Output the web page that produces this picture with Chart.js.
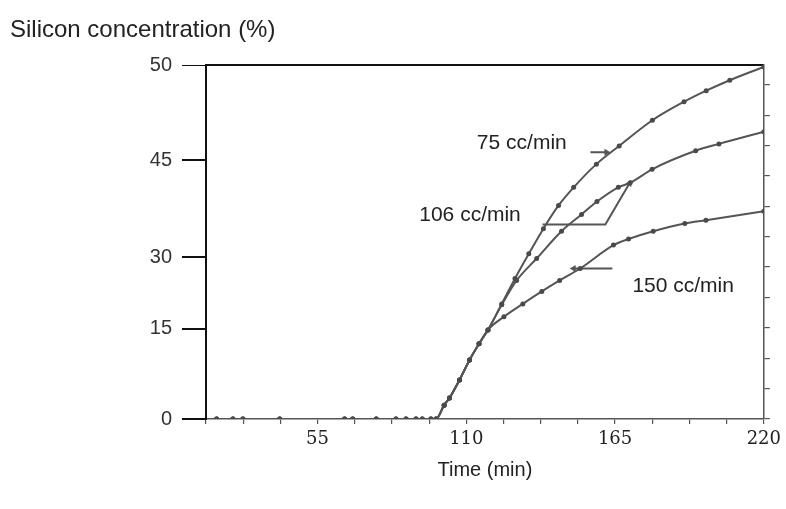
<!DOCTYPE html>
<html>
<head>
<meta charset="utf-8">
<script src="https://cdn.jsdelivr.net/npm/chart.js@4.4.1/dist/chart.umd.min.js"></script>
<style>
  body { margin: 0; background: #fff; }
  canvas { display: block; }
</style>
</head>
<body>
<canvas id="chart" width="786" height="509"></canvas>
<script>
// shared flat start + rise (all three flows overlap here)
const baseTime = [17.7, 23.7, 27.4, 41.0, 65.0, 68.0, 76.7, 84.0, 87.7, 91.4, 93.7, 96.9, 98.8, 101.8, 103.8, 107.5, 111.2, 114.7, 118.0];
const baseConc = [0, 0, 0, 0, 0, 0, 0, 0, 0, 0, 0, 0, 0, 2.3, 3.5, 6.5, 9.8, 12.5, 14.8];

const time75 = [123.1, 128.0, 133.1, 138.5, 144.1, 149.7, 158.1, 166.5, 178.8, 190.5, 198.7, 207.4, 220];
const conc75 = [20.2, 25.5, 30.5, 34.4, 38.0, 40.8, 44.4, 45.75, 47.1, 48.07, 48.65, 49.2, 49.9];

const time106 = [123.1, 128.6, 136.0, 145.2, 152.6, 158.3, 166.2, 170.6, 178.7, 194.8, 203.4, 220];
const conc106 = [20.0, 25.1, 29.7, 34.0, 36.6, 38.6, 40.8, 41.5, 43.6, 45.5, 45.86, 46.5];

const time150 = [123.9, 130.9, 137.9, 144.5, 152.1, 164.4, 170.0, 179.1, 190.8, 198.6, 220];
const conc150 = [17.5, 20.2, 22.8, 25.1, 27.6, 31.85, 32.8, 34.0, 35.2, 35.7, 37.1];

// leader lines from the labels to the curves
const lead75Time = [155.9, 161.8];
const lead75Conc = [45.42, 45.42];
const lead106Time = [138.2, 161.4, 170.3];
const lead106Conc = [35.05, 35.05, 41.4];
const lead150Time = [149.7, 164.0];
const lead150Conc = [27.6, 27.6];

const curveLabels = ['75 cc/min', '106 cc/min', '150 cc/min'];
const labelTime = [113.9, 92.6, 171.4];
const labelConc = [45.9, 36.45, 24.0];

const yTicks = [0, 15, 30, 45, 50];
const xLabelTicks = [55, 110, 165, 220];

// the printed y axis is not evenly spaced: where each tick sits (0..1 up the axis)
const yTickFrac = [0, 0.255, 0.4575, 0.7309, 1];

function piecewise(v, from, to) {
  for (let i = 1; i < from.length; i++) {
    if (v <= from[i] || i === from.length - 1) {
      const t = (v - from[i - 1]) / (from[i] - from[i - 1]);
      return to[i - 1] + t * (to[i] - to[i - 1]);
    }
  }
}

class BrokenScale extends Chart.LinearScale {
  getPixelForValue(value) {
    if (value === null || isNaN(value)) return NaN;
    return this.getPixelForDecimal(piecewise(value, yTicks, yTickFrac));
  }
  getValueForPixel(pixel) {
    return piecewise(this.getDecimalForPixel(pixel), yTickFrac, yTicks);
  }
}
BrokenScale.id = 'broken';
BrokenScale.defaults = Chart.LinearScale.defaults;
Chart.register(BrokenScale);

const pts = (xs, ys) => xs.map((x, i) => ({ x: x, y: ys[i] }));

const lineColor = '#555';

function curve(xs, ys) {
  return {
    data: pts(baseTime.concat(xs), baseConc.concat(ys)),
    borderColor: lineColor,
    borderWidth: 2,
    pointRadius: 2.5,
    pointBackgroundColor: '#4a4a4a',
    pointBorderWidth: 0,
    cubicInterpolationMode: 'monotone',
    fill: false
  };
}

function leader(xs, ys, arrowAt, rot) {
  return {
    data: pts(xs, ys),
    borderColor: lineColor,
    borderWidth: 2,
    tension: 0,
    pointStyle: 'triangle',
    pointRotation: rot,
    pointRadius: xs.map((_, i) => i === arrowAt ? 4 : 0),
    pointBackgroundColor: lineColor,
    pointBorderWidth: 0,
    fill: false
  };
}

const curveLabelPlugin = {
  id: 'curveLabels',
  afterDatasetsDraw(chart) {
    const { ctx, scales } = chart;
    ctx.save();
    ctx.font = '21px "Liberation Sans", Arial, sans-serif';
    ctx.fillStyle = '#222';
    ctx.textBaseline = 'middle';
    ctx.textAlign = 'left';
    curveLabels.forEach((t, i) => {
      ctx.fillText(t, scales.x.getPixelForValue(labelTime[i]), scales.y.getPixelForValue(labelConc[i]));
    });
    ctx.restore();
  }
};

new Chart(document.getElementById('chart'), {
  type: 'line',
  data: {
    datasets: [
      curve(time75, conc75),
      curve(time106, conc106),
      curve(time150, conc150),
      leader(lead75Time, lead75Conc, 1, 90),
      leader(lead106Time, lead106Conc, 2, 30),
      leader(lead150Time, lead150Conc, 0, 270)
    ]
  },
  options: {
    responsive: false,
    animation: false,
    events: [],
    layout: { padding: { left: 10, right: 14, top: 0, bottom: 0 } },
    plugins: {
      legend: { display: false },
      tooltip: { enabled: false },
      title: {
        display: true,
        text: 'Silicon concentration (%)',
        align: 'start',
        color: '#222',
        font: { family: '"Liberation Sans", Arial, sans-serif', size: 24, weight: 'normal' },
        padding: { top: 16, bottom: 20.2 }
      }
    },
    scales: {
      x: {
        type: 'linear',
        min: 13.75,
        max: 220,
        afterBuildTicks: s => {
          s.ticks = [];
          for (let v = 13.75; v <= 220.001; v += 13.75) s.ticks.push({ value: v });
        },
        ticks: {
          autoSkip: false,
          maxRotation: 0,
          padding: 5,
          color: '#222',
          font: { family: '"DejaVu Serif", serif', size: 18 },
          callback: v => xLabelTicks.some(t => Math.abs(t - v) < 1e-6) ? String(Math.round(v)) : ''
        },
        grid: { drawOnChartArea: false, tickLength: 5, color: '#555', lineWidth: 1.2 },
        border: { color: '#555', width: 1.5 },
        title: {
          display: true,
          text: 'Time (min)',
          color: '#222',
          font: { family: '"Liberation Sans", Arial, sans-serif', size: 20 },
          padding: { top: 2.4, bottom: 27 }
        }
      },
      xTop: {
        type: 'linear',
        position: 'top',
        min: 13.75,
        max: 220,
        ticks: { display: false },
        grid: { display: false, drawTicks: false },
        border: { color: '#111', width: 2 }
      },
      y: {
        type: 'broken',
        min: 0,
        max: 50,
        afterBuildTicks: s => { s.ticks = yTicks.map(v => ({ value: v })); },
        afterFit: s => { s.width = 196; },
        ticks: {
          padding: 10,
          color: '#333',
          font: { family: '"Liberation Sans", Arial, sans-serif', size: 20 }
        },
        grid: {
          drawOnChartArea: false,
          tickLength: 24,
          color: '#111',
          lineWidth: ctx => (ctx.tick && ctx.tick.value === 50) ? 1 : 2
        },
        border: { color: '#111', width: 2 }
      },
      yR: {
        type: 'linear',
        position: 'right',
        min: 0,
        max: 11.65,
        afterBuildTicks: s => {
          s.ticks = [];
          for (let k = 0; k <= 11; k++) s.ticks.push({ value: k });
        },
        ticks: { display: false },
        grid: { drawOnChartArea: false, tickLength: 6, color: '#555', lineWidth: 1.2 },
        border: { color: '#555', width: 1.5 }
      }
    }
  },
  plugins: [curveLabelPlugin]
});
</script>
</body>
</html>
